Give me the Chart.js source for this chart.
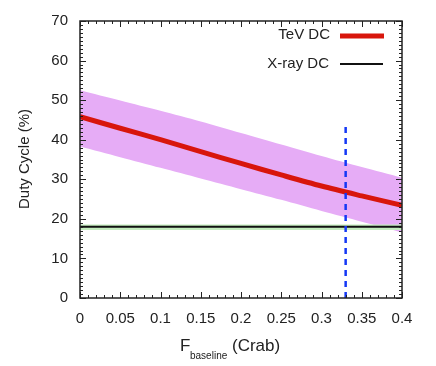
<!DOCTYPE html>
<html lang="en">
<head>
    <meta charset="UTF-8">
    <title>Duty Cycle vs baseline flux</title>
    <script src="https://cdn.jsdelivr.net/npm/chart.js"></script>
    <style>
        body{margin:0;background:#fff}
        .wrap{position:relative;width:436px;height:366px}
    </style>
</head>
<body>
<div class="wrap"><canvas id="dcChart" width="436" height="366"></canvas></div>
<script>
// data
const fluxVals = [0, 0.05, 0.1, 0.15, 0.2, 0.25, 0.3, 0.35, 0.4];
const tevDC = [45.8, 42.9, 40.0, 37.0, 34.0, 31.1, 28.3, 25.8, 23.4];
const tevUpper = [52.5, 49.9, 47.3, 44.6, 41.7, 38.8, 35.9, 33.1, 30.4];
const tevLower = [38.3, 35.6, 32.9, 30.2, 27.5, 24.8, 22.0, 19.3, 16.6];
const xrayDC = 18;
const xrayLow = 17.2, xrayHigh = 18.6;
const markerFlux = 0.33;
const markerTop = 44;
const xTicks = [0, 0.05, 0.1, 0.15, 0.2, 0.25, 0.3, 0.35, 0.4];
const yTicks = [0, 10, 20, 30, 40, 50, 60, 70];

const pts = arr => fluxVals.map((x, i) => ({x, y: arr[i]}));
const flat = v => [{x: 0, y: v}, {x: 0.4, y: v}];

// frame + gnuplot style inward ticks, legend and axis titles
const decor = {
    id: 'decor',
    afterDatasetsDraw(chart) {
        const {ctx, chartArea: a, scales: {x, y}} = chart;
        ctx.save();
        ctx.strokeStyle = '#222';
        ctx.lineWidth = 1;
        ctx.beginPath();
        for (let i = 0; i <= 40; i++) {
            const px = Math.round(x.getPixelForValue(i * 0.01)) + 0.5;
            const len = i % 5 === 0 ? 6 : 3;
            ctx.moveTo(px, a.bottom); ctx.lineTo(px, a.bottom - len);
            ctx.moveTo(px, a.top); ctx.lineTo(px, a.top + len);
        }
        for (let i = 0; i <= 70; i++) {
            const py = Math.round(y.getPixelForValue(i)) + 0.5;
            const len = i % 10 === 0 ? 6 : 3;
            ctx.moveTo(a.left, py); ctx.lineTo(a.left + len, py);
            ctx.moveTo(a.right, py); ctx.lineTo(a.right - len, py);
        }
        ctx.stroke();
        ctx.lineWidth = 1.5;
        ctx.strokeRect(a.left, a.top, a.right - a.left, a.bottom - a.top);

        // legend
        ctx.font = '15px "Liberation Sans", Arial, sans-serif';
        ctx.fillStyle = '#222';
        ctx.textAlign = 'right';
        ctx.textBaseline = 'middle';
        ctx.fillText('TeV DC', 330, 35);
        ctx.fillText('X-ray DC', 329, 64);
        ctx.lineCap = 'butt';
        ctx.strokeStyle = '#d8160c';
        ctx.lineWidth = 5;
        ctx.beginPath(); ctx.moveTo(340, 36); ctx.lineTo(384, 36); ctx.stroke();
        ctx.strokeStyle = '#111';
        ctx.lineWidth = 2;
        ctx.beginPath(); ctx.moveTo(340, 64); ctx.lineTo(383, 64); ctx.stroke();

        // y title
        ctx.save();
        ctx.translate(25, 159);
        ctx.rotate(-Math.PI / 2);
        ctx.textAlign = 'center';
        ctx.font = '15px "Liberation Sans", Arial, sans-serif';
        ctx.fillText('Duty Cycle (%)', 0, 0);
        ctx.restore();

        // x title with subscript
        ctx.textAlign = 'left';
        ctx.textBaseline = 'alphabetic';
        ctx.font = '17px "Liberation Sans", Arial, sans-serif';
        ctx.fillText('F', 180, 351);
        ctx.font = '10px "Liberation Sans", Arial, sans-serif';
        ctx.fillText('baseline', 190, 359);
        ctx.font = '17px "Liberation Sans", Arial, sans-serif';
        ctx.fillText('(Crab)', 232, 351);
        ctx.restore();
    }
};

new Chart(document.getElementById('dcChart'), {
    type: 'line',
    data: {
        datasets: [
            {data: pts(tevLower), borderWidth: 0, pointRadius: 0, fill: false, tension: 0.3, order: 6, borderColor: 'rgba(0,0,0,0)'},
            {data: pts(tevUpper), borderWidth: 0, pointRadius: 0, fill: '-1', tension: 0.3, order: 5, borderColor: 'rgba(0,0,0,0)', backgroundColor: 'rgb(230,172,246)'},
            {data: flat(xrayLow), borderWidth: 0, pointRadius: 0, fill: false, order: 4, borderColor: 'rgba(0,0,0,0)'},
            {data: flat(xrayHigh), borderWidth: 0, pointRadius: 0, fill: '-1', order: 3, borderColor: 'rgba(0,0,0,0)', backgroundColor: 'rgb(196,236,190)'},
            {label: 'X-ray DC', data: flat(xrayDC), borderColor: '#111', borderWidth: 2, pointRadius: 0, order: 2},
            {label: 'TeV DC', data: pts(tevDC), borderColor: '#d8160c', borderWidth: 5, pointRadius: 0, tension: 0.3, order: 1},
            {data: [{x: markerFlux, y: 0}, {x: markerFlux, y: markerTop}], borderColor: '#1438f5', borderWidth: 2.5, borderDash: [6, 5], pointRadius: 0, order: 0}
        ]
    },
    options: {
        responsive: false,
        animation: false,
        events: [],
        layout: {padding: {top: 18, right: 34, left: 0, bottom: 0}},
        plugins: {legend: {display: false}, tooltip: {enabled: false}},
        scales: {
            x: {
                type: 'linear', min: 0, max: 0.4,
                afterBuildTicks: s => { s.ticks = xTicks.map(v => ({value: v})); },
                afterFit: s => { s.height = 68; },
                grid: {display: false, drawTicks: false},
                border: {display: false},
                ticks: {
                    padding: 12, color: '#222', maxRotation: 0,
                    font: {family: '"Liberation Sans", Arial, sans-serif', size: 15},
                    callback: v => String(+v.toFixed(2))
                }
            },
            y: {
                min: 0, max: 70,
                afterBuildTicks: s => { s.ticks = yTicks.map(v => ({value: v})); },
                afterFit: s => { s.width = 80; },
                grid: {display: false, drawTicks: false},
                border: {display: false},
                ticks: {
                    padding: 12, color: '#222',
                    font: {family: '"Liberation Sans", Arial, sans-serif', size: 15}
                }
            }
        }
    },
    plugins: [decor]
});
</script>
</body>
</html>
